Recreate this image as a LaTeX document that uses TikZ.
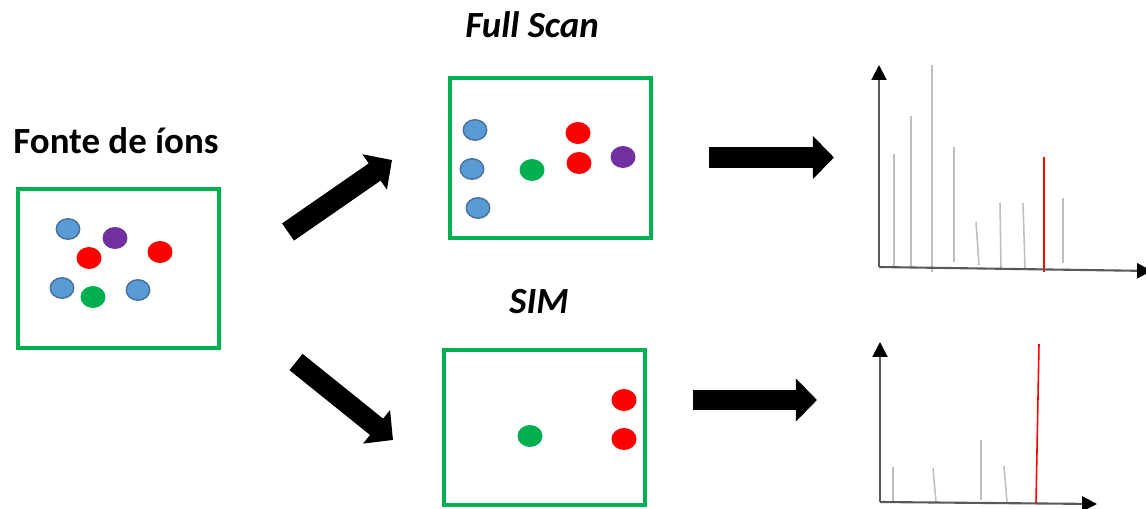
\documentclass[tikz,border=0pt]{standalone}
\usepackage{fontspec}
\setmainfont{Carlito}
\usetikzlibrary{arrows.meta,shapes.geometric}

\definecolor{boxgreen}{HTML}{00B050}
\definecolor{ionblue}{HTML}{5B9BD5}
\definecolor{ionblueline}{HTML}{41719C}
\definecolor{ionpurple}{HTML}{7030A0}
\definecolor{ionred}{HTML}{FF0000}
\definecolor{iongreen}{HTML}{00B050}
\definecolor{peakgray}{HTML}{BFBFBF}
\definecolor{axisgray}{HTML}{595959}

\tikzset{
	ionbox/.style={draw=boxgreen, line width=2.8pt, minimum width=4.02cm, inner sep=0pt},
	ion/.style={ellipse, inner sep=0pt, minimum width=0.5cm, minimum height=0.44cm},
	blueion/.style={ion, fill=ionblue, draw=ionblueline, line width=0.8pt, minimum width=0.47cm, minimum height=0.41cm},
	redion/.style={ion, fill=ionred},
	greenion/.style={ion, fill=iongreen},
	purpleion/.style={ion, fill=ionpurple},
	bigarrow/.style={line width=11.9pt, -{Triangle[width=23.8pt,length=12pt]}},
	axis/.style={draw=axisgray, line width=1.2pt, -{Triangle[width=8.5pt,length=8.5pt,color=black]}},
	peak/.style={draw=peakgray, line width=0.9pt},
	mainpeak/.style={draw=ionred, line width=0.9pt},
	title/.style={anchor=base, font=\fontsize{21}{25}\selectfont\bfseries}
}

\begin{document}
\begin{tikzpicture}[x=0.02cm, y=0.02cm]

	\useasboundingbox (0,0) rectangle (1146,508);

	% ion source
	\node[title] (srctitle) at (116,355) {Fonte de íons};
	\node[ionbox, minimum height=3.18cm] (src) at (118.5,239.5) {};
	\node[blueion] (s1) at (68,279) {};
	\node[purpleion] (s2) at (115,270) {};
	\node[redion] (s3) at (89,250) {};
	\node[redion] (s4) at (160,256) {};
	\node[blueion] (s5) at (62,220) {};
	\node[greenion] (s6) at (93,211) {};
	\node[blueion] (s7) at (138,218) {};

	% full scan
	\node[title, font=\fontsize{21}{25}\selectfont\bfseries\itshape] (fstitle) at (532,470) {Full Scan};
	\node[ionbox, minimum height=3.2cm] (fs) at (550.5,350) {};
	\node[blueion] (f1) at (475,378) {};
	\node[blueion] (f2) at (472,339) {};
	\node[blueion] (f3) at (478,300) {};
	\node[greenion] (f4) at (532,338) {};
	\node[redion] (f5) at (578,375) {};
	\node[redion] (f6) at (579,345) {};
	\node[purpleion] (f7) at (623,351) {};

	% SIM
	\node[title, font=\fontsize{21}{25}\selectfont\bfseries\itshape] (simtitle) at (539,195) {SIM};
	\node[ionbox, minimum height=3.1cm] (sim) at (544.5,80.5) {};
	\node[greenion] (m1) at (530,72) {};
	\node[redion] (m2) at (624,108) {};
	\node[redion] (m3) at (624,69) {};

	% block arrows
	\coordinate (upfrom) at (288,276);
	\coordinate (upto) at (392,348);
	\coordinate (downfrom) at (296,146);
	\coordinate (downto) at (393,68);
	\coordinate (fsfrom) at (709,350.5);
	\coordinate (fsto) at (834,350.5);
	\coordinate (simfrom) at (693,108);
	\coordinate (simto) at (817,108);
	\draw[bigarrow] (upfrom) -- (upto);
	\draw[bigarrow] (downfrom) -- (downto);
	\draw[bigarrow] (fsfrom) -- (fsto);
	\draw[bigarrow] (simfrom) -- (simto);

	% full scan spectrum
	\draw[peak] (894,241) -- (894,354);
	\draw[peak] (911,241) -- (911,392);
	\draw[peak] (932,236) -- (932,443);
	\draw[peak] (954,246) -- (954,361);
	\draw[peak] (979,243) -- (976,286);
	\draw[peak] (1001,240) -- (1000,305);
	\draw[peak] (1025,240) -- (1023,305);
	\draw[peak] (1063,245) -- (1063,310);
	\draw[mainpeak] (1044,236) -- (1044,351);
	\coordinate (fsorigin) at (879,241);
	\draw[axis] (fsorigin) -- (879,443);
	\draw[axis] (fsorigin) -- (1152,237);

	% SIM spectrum
	\draw[peak] (893,6) -- (893,41);
	\draw[peak] (936,6) -- (933,40);
	\draw[peak] (981,8) -- (981,68);
	\draw[peak] (1007,6) -- (1004,42);
	\draw[mainpeak] (1036,5) -- (1039,164);
	\coordinate (simorigin) at (880,6);
	\draw[axis] (simorigin) -- (880,166);
	\draw[axis] (simorigin) -- (1097,4);

\end{tikzpicture}
\end{document}
